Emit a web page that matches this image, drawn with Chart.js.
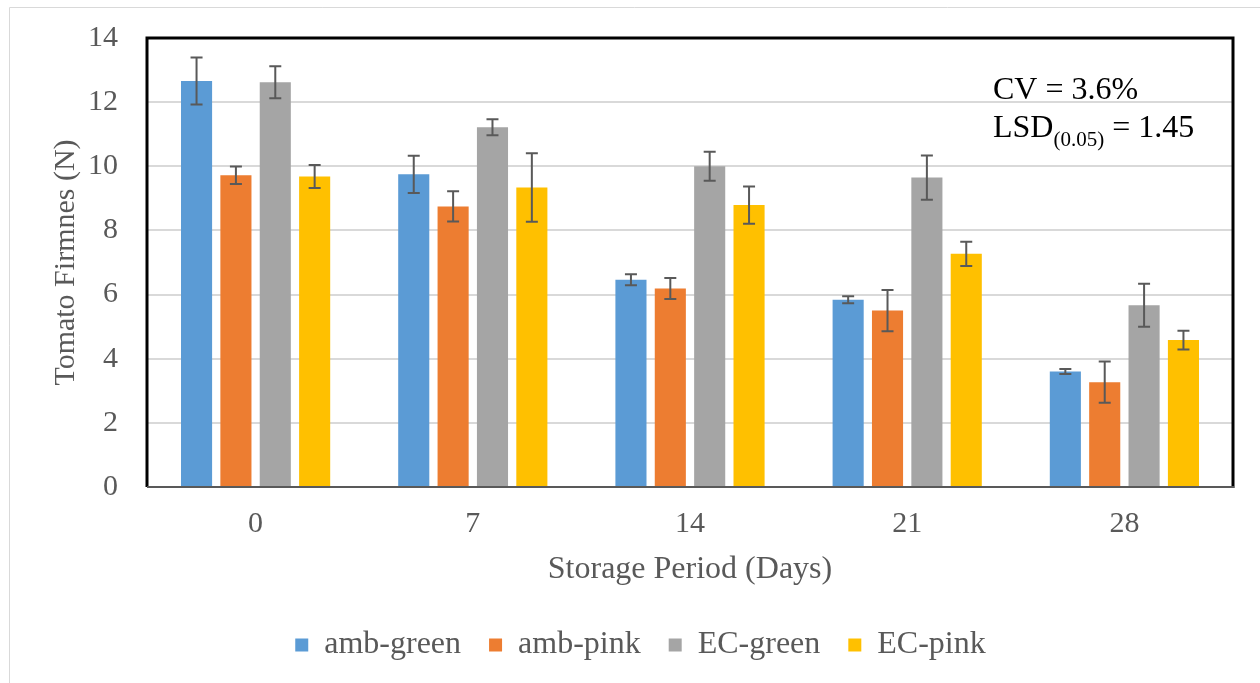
<!DOCTYPE html>
<html>
<head>
<meta charset="utf-8">
<script src="https://cdn.jsdelivr.net/npm/chart.js@4"></script>
<style>
  html, body { margin: 0; padding: 0; background: #fff; }
  #wrap { width: 1260px; height: 683px; }
</style>
</head>
<body>
<div id="wrap"><canvas id="myChart" width="1260" height="683"></canvas></div>
<script>
const days = ["0", "7", "14", "21", "28"];

const ambGreen = [12.66, 9.75, 6.46, 5.84, 3.6];
const ambPink = [9.72, 8.75, 6.19, 5.5, 3.27];
const ecGreen = [12.62, 11.22, 10.0, 9.65, 5.67];
const ecPink = [9.68, 9.34, 8.79, 7.27, 4.58];

// error bar half-lengths
const ambGreenErr = [0.73, 0.58, 0.17, 0.11, 0.08];
const ambPinkErr = [0.27, 0.47, 0.33, 0.64, 0.64];
const ecGreenErr = [0.5, 0.25, 0.45, 0.69, 0.67];
const ecPinkErr = [0.36, 1.07, 0.58, 0.38, 0.29];

const serif = "'Liberation Serif', 'Times New Roman', serif";
const gray = "#595959";

const errorBars = {
  id: "errorBars",
  afterDatasetsDraw(chart) {
    const ctx = chart.ctx;
    const y = chart.scales.y;
    ctx.save();
    ctx.strokeStyle = gray;
    ctx.lineWidth = 2;
    chart.data.datasets.forEach(function (ds, i) {
      const meta = chart.getDatasetMeta(i);
      meta.data.forEach(function (bar, j) {
        const v = ds.data[j];
        const e = ds.err[j];
        const top = y.getPixelForValue(v + e);
        const bot = y.getPixelForValue(v - e);
        ctx.beginPath();
        ctx.moveTo(bar.x, top);
        ctx.lineTo(bar.x, bot);
        ctx.moveTo(bar.x - 6, top);
        ctx.lineTo(bar.x + 6, top);
        ctx.moveTo(bar.x - 6, bot);
        ctx.lineTo(bar.x + 6, bot);
        ctx.stroke();
      });
    });
    ctx.restore();
  },
};

const frame = {
  id: "frame",
  beforeDraw(chart) {
    const ctx = chart.ctx;
    ctx.save();
    ctx.strokeStyle = "#d9d9d9";
    ctx.lineWidth = 1;
    ctx.beginPath();
    ctx.moveTo(9.5, 690);
    ctx.lineTo(9.5, 7.5);
    ctx.lineTo(1260, 7.5);
    ctx.stroke();
    ctx.restore();
  },
  afterDraw(chart) {
    const ctx = chart.ctx;
    const a = chart.chartArea;
    ctx.save();
    ctx.strokeStyle = "#000";
    ctx.lineWidth = 3;
    ctx.beginPath();
    ctx.moveTo(a.left, a.bottom);
    ctx.lineTo(a.left, a.top);
    ctx.lineTo(a.right, a.top);
    ctx.lineTo(a.right, a.bottom + 1);
    ctx.stroke();
    ctx.strokeStyle = gray;
    ctx.lineWidth = 2;
    ctx.beginPath();
    ctx.moveTo(a.left, a.bottom);
    ctx.lineTo(a.right + 1, a.bottom);
    ctx.stroke();

    // stats note
    ctx.fillStyle = "#000";
    ctx.textBaseline = "alphabetic";
    ctx.font = "32px " + serif;
    ctx.fillText("CV = 3.6%", 993, 99);
    ctx.fillText("LSD", 993, 137);
    let x = 993 + ctx.measureText("LSD").width;
    ctx.font = "21px " + serif;
    ctx.fillText("(0.05)", x, 146);
    x += ctx.measureText("(0.05)").width;
    ctx.font = "32px " + serif;
    ctx.fillText(" = 1.45", x, 137);
    ctx.restore();
  },
};

new Chart("myChart", {
  type: "bar",
  data: {
    labels: days,
    datasets: [
      { label: "amb-green", data: ambGreen, err: ambGreenErr, backgroundColor: "#5B9BD5" },
      { label: "amb-pink", data: ambPink, err: ambPinkErr, backgroundColor: "#ED7D31" },
      { label: "EC-green", data: ecGreen, err: ecGreenErr, backgroundColor: "#A5A5A5" },
      { label: "EC-pink", data: ecPink, err: ecPinkErr, backgroundColor: "#FFC000" },
    ],
  },
  options: {
    responsive: false,
    animation: false,
    layout: { padding: { left: 48, top: 38, right: 27, bottom: 12 } },
    datasets: {
      bar: { categoryPercentage: 0.725, barPercentage: 0.79 },
    },
    plugins: {
      tooltip: { enabled: false },
      legend: {
        position: "bottom",
        labels: {
          boxWidth: 13,
          boxHeight: 13,
          padding: 28,
          color: gray,
          font: { family: serif, size: 32 },
        },
      },
    },
    scales: {
      x: {
        grid: { display: false },
        border: { display: false },
        ticks: { color: gray, padding: 11, font: { family: serif, size: 30 } },
        title: {
          display: true,
          text: "Storage Period (Days)",
          color: gray,
          padding: { top: 0, bottom: 12 },
          font: { family: serif, size: 32 },
        },
        afterFit(scale) {
          scale.height = 114;
        },
      },
      y: {
        min: 0,
        max: 14,
        // small lineHeight keeps the top label from pushing the plot down
        ticks: { stepSize: 2, color: gray, padding: 29, font: { family: serif, size: 30, lineHeight: 0.3 } },
        grid: { color: "#d9d9d9", lineWidth: 2, drawTicks: false },
        border: { display: false },
        title: {
          display: true,
          text: "Tomato Firmnes (N)",
          color: gray,
          padding: 0,
          font: { family: serif, size: 30 },
        },
        afterFit(scale) {
          scale.width = 99;
        },
      },
    },
  },
  plugins: [frame, errorBars],
});
</script>
</body>
</html>
